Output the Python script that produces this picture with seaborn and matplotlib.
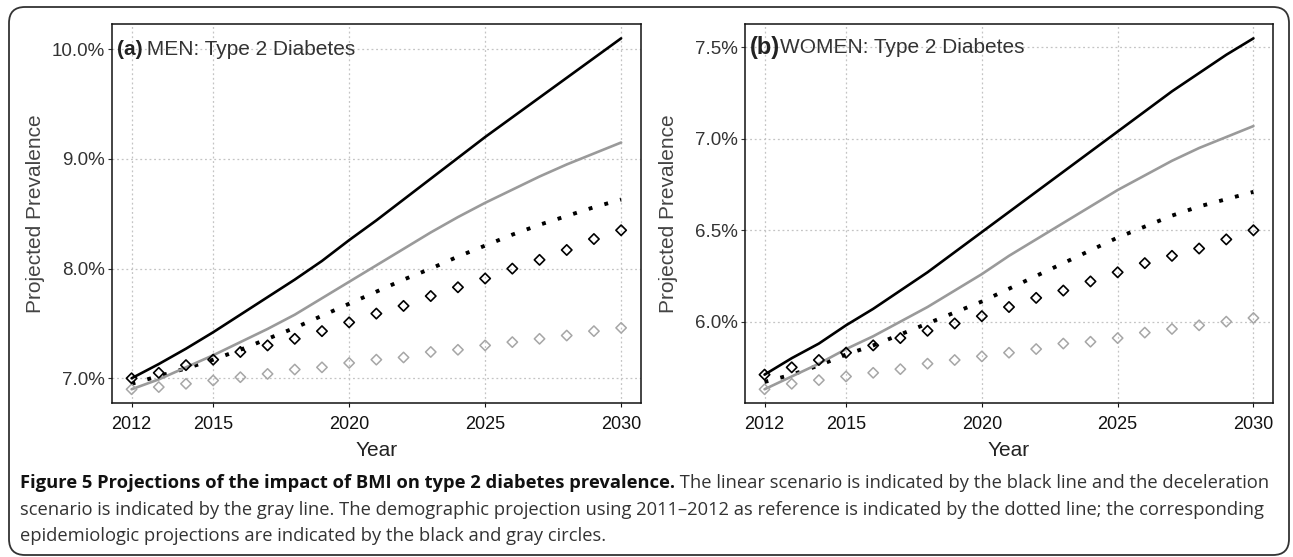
import numpy as np
import pandas as pd
import matplotlib
matplotlib.use("Agg")
import matplotlib.pyplot as plt
import matplotlib.transforms as mtransforms
from matplotlib.patches import FancyBboxPatch
import seaborn as sns

# ---------------- data (percent) ----------------
years = list(range(2012, 2031))

men_linear = [7.00, 7.13, 7.27, 7.42, 7.58, 7.74, 7.90, 8.07, 8.26, 8.44, 8.63,
              8.82, 9.01, 9.20, 9.38, 9.56, 9.74, 9.92, 10.10]
men_decel = [6.90, 6.99, 7.10, 7.21, 7.33, 7.45, 7.58, 7.73, 7.88, 8.03, 8.18,
             8.33, 8.47, 8.60, 8.72, 8.84, 8.95, 9.05, 9.15]
men_demog = [6.95, 7.02, 7.09, 7.17, 7.26, 7.36, 7.46, 7.57, 7.68, 7.79, 7.90,
             8.00, 8.11, 8.21, 8.31, 8.40, 8.48, 8.56, 8.63]
men_epi_black = [7.00, 7.05, 7.12, 7.17, 7.24, 7.30, 7.36, 7.43, 7.51, 7.59, 7.66,
                 7.75, 7.83, 7.91, 8.00, 8.08, 8.17, 8.27, 8.35]
men_epi_gray = [6.90, 6.92, 6.95, 6.98, 7.01, 7.04, 7.08, 7.10, 7.14, 7.17, 7.19,
                7.24, 7.26, 7.30, 7.33, 7.36, 7.39, 7.43, 7.46]

women_linear = [5.71, 5.80, 5.88, 5.98, 6.07, 6.17, 6.27, 6.38, 6.49, 6.60, 6.71,
                6.82, 6.93, 7.04, 7.15, 7.26, 7.36, 7.46, 7.55]
women_decel = [5.63, 5.70, 5.77, 5.85, 5.92, 6.00, 6.08, 6.17, 6.26, 6.36, 6.45,
               6.54, 6.63, 6.72, 6.80, 6.88, 6.95, 7.01, 7.07]
women_demog = [5.67, 5.71, 5.76, 5.82, 5.87, 5.93, 5.99, 6.05, 6.11, 6.18, 6.25,
               6.32, 6.39, 6.46, 6.52, 6.58, 6.63, 6.67, 6.71]
women_epi_black = [5.71, 5.75, 5.79, 5.83, 5.87, 5.91, 5.95, 5.99, 6.03, 6.08, 6.13,
                   6.17, 6.22, 6.27, 6.32, 6.36, 6.40, 6.45, 6.50]
women_epi_gray = [5.63, 5.66, 5.68, 5.70, 5.72, 5.74, 5.77, 5.79, 5.81, 5.83, 5.85,
                  5.88, 5.89, 5.91, 5.94, 5.96, 5.98, 6.00, 6.02]

x_ticks = [2012, 2015, 2020, 2025, 2030]
men_yticks = [7.0, 8.0, 9.0, 10.0]
women_yticks = [6.0, 6.5, 7.0, 7.5]

panel_letters = ["(a)", "(b)"]
panel_titles = [" MEN: Type 2 Diabetes", "WOMEN: Type 2 Diabetes"]
x_label = "Year"
y_label = "Projected Prevalence"

caption_bold = "Figure 5 Projections of the impact of BMI on type 2 diabetes prevalence."
caption_l1 = " The linear scenario is indicated by the black line and the deceleration"
caption_l2 = ("scenario is indicated by the gray line. The demographic projection using "
              "2011\u20132012 as reference is indicated by the dotted line; the corresponding")
caption_l3 = "epidemiologic projections are indicated by the black and gray circles."

# ---------------- style ----------------
sns.set_style("white")
plt.rcParams['font.family'] = ['Liberation Sans', 'DejaVu Sans']

W, H, DPI = 1293, 557, 100
fig = plt.figure(figsize=(W / DPI, H / DPI), dpi=DPI)
fig.patch.set_facecolor("white")

def px_axes(l, t, r, b):
    return fig.add_axes([l / W, 1 - b / H, (r - l) / W, (b - t) / H])

ax_a = px_axes(112, 24.3, 640.7, 403.3)
ax_b = px_axes(745, 24.3, 1273, 403.3)

BLACK = "#000000"
GRAY = "#9a9a9a"
GRAY_M = "#a6a6a6"


def draw_panel(ax, linear, decel, demog, epi_b, epi_g, yticks, letter, title,
               letter_x, title_x, title_y, letter_size):
    df_lines = pd.DataFrame({
        "Year": years * 3,
        "Prevalence": linear + decel + demog,
        "Scenario": ["linear"] * len(years) + ["decel"] * len(years) + ["demog"] * len(years),
    })
    sns.lineplot(data=df_lines[df_lines.Scenario == "demog"], x="Year", y="Prevalence",
                 ax=ax, color=BLACK, linewidth=2.8, linestyle=(0, (1, 3.2)),
                 dash_capstyle="butt", zorder=3)
    sns.lineplot(data=df_lines[df_lines.Scenario == "decel"], x="Year", y="Prevalence",
                 ax=ax, color=GRAY, linewidth=1.9, zorder=4)
    sns.lineplot(data=df_lines[df_lines.Scenario == "linear"], x="Year", y="Prevalence",
                 ax=ax, color=BLACK, linewidth=1.9, zorder=5)

    df_pts = pd.DataFrame({"Year": years, "b": epi_b, "g": epi_g})
    sns.scatterplot(data=df_pts, x="Year", y="g", ax=ax, marker="D", s=28,
                    facecolors="none", edgecolors=GRAY_M, linewidths=1.1, zorder=6)
    sns.scatterplot(data=df_pts, x="Year", y="b", ax=ax, marker="D", s=28,
                    facecolors="none", edgecolors=BLACK, linewidths=1.2, zorder=7)

    allv = linear + decel + demog + epi_b + epi_g
    lo, hi = min(allv), max(allv)
    pad = 0.04 * (hi - lo)
    ax.set_ylim(lo - pad, hi + pad)
    xpad = 0.04 * (years[-1] - years[0])
    ax.set_xlim(years[0] - xpad, years[-1] + xpad)

    ax.set_xticks(x_ticks)
    ax.set_xticklabels([str(v) for v in x_ticks])
    ax.set_yticks(yticks)
    ax.set_yticklabels([f"{v:.1f}%" for v in yticks])

    ax.grid(True, color="#c4c4c4", linestyle=(0, (1.5, 2.2)), linewidth=0.9)
    ax.set_axisbelow(True)
    for s in ax.spines.values():
        s.set_visible(True)
        s.set_color("#111111")
        s.set_linewidth(1.1)

    ax.tick_params(axis="x", labelsize=13, colors="#111111", length=3, width=0.8,
                   direction="out", pad=6, bottom=True)
    ax.tick_params(axis="y", labelsize=13.5, colors="#333333", length=3, width=0.8,
                   direction="out", pad=2, left=True)

    ax.set_xlabel(x_label, fontsize=15, color="#222222", labelpad=6)
    ax.set_ylabel(y_label, fontsize=15, color="#444444")
    ax.yaxis.set_label_coords(-67 / 528.5, 0.5)

    tr = mtransforms.blended_transform_factory(ax.transAxes, ax.transData)
    ax.text(letter_x, title_y, letter, transform=tr, fontsize=letter_size,
            fontweight="bold", color="#222222", ha="left", va="center", zorder=10)
    ax.text(title_x, title_y, title, transform=tr, fontsize=15, color="#333333",
            ha="left", va="center", zorder=10)


draw_panel(ax_a, men_linear, men_decel, men_demog, men_epi_black, men_epi_gray,
           men_yticks, panel_letters[0], panel_titles[0], 0.009, 0.055, 10.0, 15)
draw_panel(ax_b, women_linear, women_decel, women_demog, women_epi_black, women_epi_gray,
           women_yticks, panel_letters[1], panel_titles[1], 0.010, 0.066, 7.5, 17)

# ---------------- caption ----------------
cap_font = ['Open Sans', 'DejaVu Sans']
x0 = 20 / W
fs = 12.0
t_b = fig.text(x0, 1 - 483 / H, caption_bold, fontsize=fs, fontweight="bold",
               family=cap_font, color="#111111", ha="left", va="center")
fig.canvas.draw()
r = fig.canvas.get_renderer()
bb = t_b.get_window_extent(r)
t_n = fig.text(bb.x1 / W, 1 - 483 / H, caption_l1, fontsize=fs, family=cap_font,
               color="#333333", ha="left", va="center")
bb2 = t_n.get_window_extent(r)
# scale caption to the reference line width
target = 1268 - 20
scale = target / (bb2.x1 - bb.x0)
fs2 = fs * scale
t_b.set_fontsize(fs2)
fig.canvas.draw()
bb = t_b.get_window_extent(r)
t_n.set_fontsize(fs2)
t_n.set_position((bb.x1 / W, 1 - 483 / H))
fig.text(x0, 1 - 510 / H, caption_l2, fontsize=fs2, family=cap_font, color="#333333",
         ha="left", va="center")
fig.text(x0, 1 - 536 / H, caption_l3, fontsize=fs2, family=cap_font, color="#333333",
         ha="left", va="center")

# ---------------- frame ----------------
frame = FancyBboxPatch((9, 2), 1280, 548, boxstyle="round,pad=0,rounding_size=16",
                       transform=mtransforms.IdentityTransform(), fill=False,
                       edgecolor="#333333", linewidth=1.3)
fig.patches.append(frame)

fig.savefig("out.png", dpi=DPI)
